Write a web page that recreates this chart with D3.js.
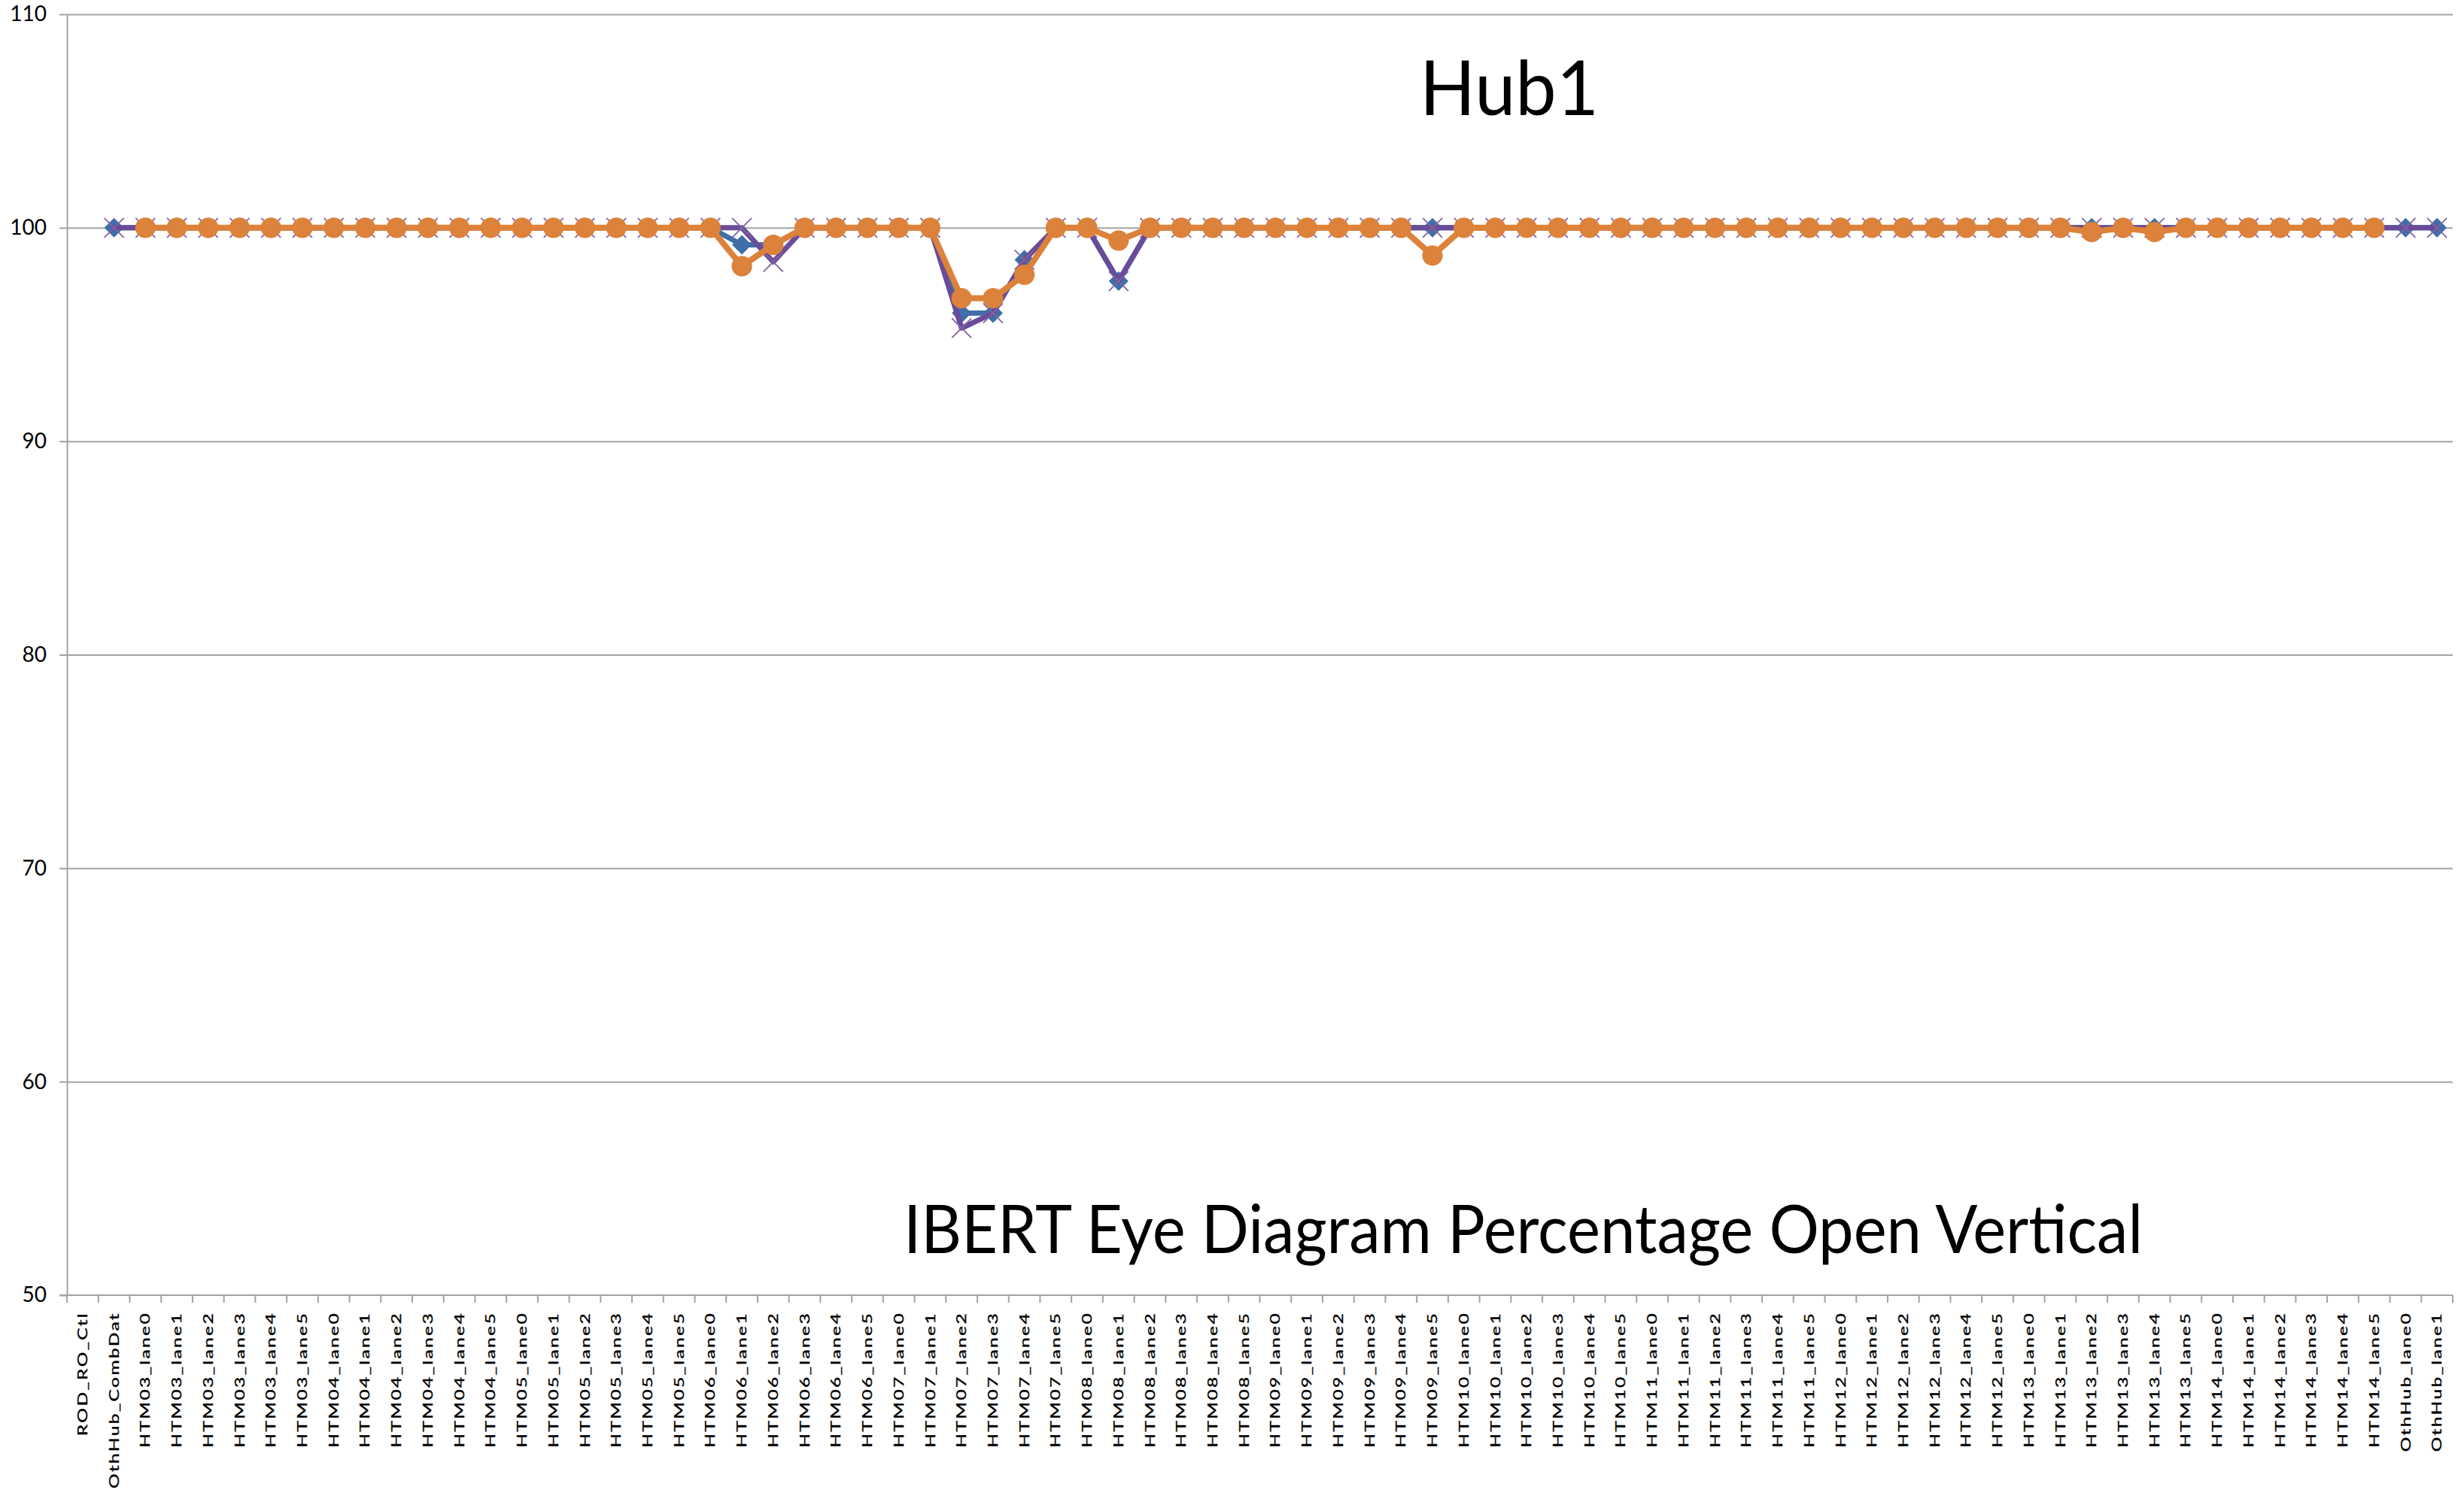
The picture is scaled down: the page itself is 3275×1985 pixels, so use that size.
<!DOCTYPE html>
<html>
<head>
<meta charset="utf-8">
<script src="https://cdn.jsdelivr.net/npm/d3@7"></script>
<style>
html,body{margin:0;padding:0;background:#fff;}
svg{display:block;}
</style>
</head>
<body>
<svg id="chart" width="3275" height="1985"></svg>
<script>
const categories = [
  "ROD_RO_Ctl","OthHub_CombDat",
  "HTM03_lane0","HTM03_lane1","HTM03_lane2","HTM03_lane3","HTM03_lane4","HTM03_lane5",
  "HTM04_lane0","HTM04_lane1","HTM04_lane2","HTM04_lane3","HTM04_lane4","HTM04_lane5",
  "HTM05_lane0","HTM05_lane1","HTM05_lane2","HTM05_lane3","HTM05_lane4","HTM05_lane5",
  "HTM06_lane0","HTM06_lane1","HTM06_lane2","HTM06_lane3","HTM06_lane4","HTM06_lane5",
  "HTM07_lane0","HTM07_lane1","HTM07_lane2","HTM07_lane3","HTM07_lane4","HTM07_lane5",
  "HTM08_lane0","HTM08_lane1","HTM08_lane2","HTM08_lane3","HTM08_lane4","HTM08_lane5",
  "HTM09_lane0","HTM09_lane1","HTM09_lane2","HTM09_lane3","HTM09_lane4","HTM09_lane5",
  "HTM10_lane0","HTM10_lane1","HTM10_lane2","HTM10_lane3","HTM10_lane4","HTM10_lane5",
  "HTM11_lane0","HTM11_lane1","HTM11_lane2","HTM11_lane3","HTM11_lane4","HTM11_lane5",
  "HTM12_lane0","HTM12_lane1","HTM12_lane2","HTM12_lane3","HTM12_lane4","HTM12_lane5",
  "HTM13_lane0","HTM13_lane1","HTM13_lane2","HTM13_lane3","HTM13_lane4","HTM13_lane5",
  "HTM14_lane0","HTM14_lane1","HTM14_lane2","HTM14_lane3","HTM14_lane4","HTM14_lane5",
  "OthHub_lane0","OthHub_lane1"
];

// Series with diamond markers (blue)
const seriesDiamond = [
  null,100,
  100,100,100,100,100,100,
  100,100,100,100,100,100,
  100,100,100,100,100,100,
  100,99.2,99.2,100,100,100,
  100,100,96.0,96.0,98.5,100,
  100,97.5,100,100,100,100,
  100,100,100,100,100,100,
  100,100,100,100,100,100,
  100,100,100,100,100,100,
  100,100,100,100,100,100,
  100,100,100,100,100,100,
  100,100,100,100,100,100,
  100,100
];

// Series with X markers (purple)
const seriesCross = [
  null,100,
  100,100,100,100,100,100,
  100,100,100,100,100,100,
  100,100,100,100,100,100,
  100,100,98.4,100,100,100,
  100,100,95.3,96.0,98.5,100,
  100,97.5,100,100,100,100,
  100,100,100,100,100,100,
  100,100,100,100,100,100,
  100,100,100,100,100,100,
  100,100,100,100,100,100,
  100,100,100,100,100,100,
  100,100,100,100,100,100,
  100,100
];

// Series with circle markers (orange)
const seriesCircle = [
  null,null,
  100,100,100,100,100,100,
  100,100,100,100,100,100,
  100,100,100,100,100,100,
  100,98.2,99.2,100,100,100,
  100,100,96.7,96.7,97.8,100,
  100,99.4,100,100,100,100,
  100,100,100,100,100,98.7,
  100,100,100,100,100,100,
  100,100,100,100,100,100,
  100,100,100,100,100,100,
  100,100,99.8,100,99.8,100,
  100,100,100,100,100,100,
  null,null
];

const yTicks = [50,60,70,80,90,100,110];
const titleText = "Hub1";
const subtitleText = "IBERT Eye Diagram Percentage Open Vertical";

(function(){
const svg = d3.select("#chart");
const mL = 89, mR = 3260, mT = 19, mB = 1722;
const FONT = "Lato, 'Open Sans', sans-serif";
const gridColor = "#A3A3A3";

const x = d3.scaleBand().domain(categories).range([mL, mR]).padding(0);
const y = d3.scaleLinear().domain([50,110]).range([mB, mT]);
const cx = c => x(c) + x.bandwidth()/2;

svg.append("rect").attr("width",3275).attr("height",1985).attr("fill","#fff");

// gridlines
const grid = svg.append("g").attr("transform",`translate(${mL},0)`)
  .call(d3.axisLeft(y).tickValues(yTicks.filter(t=>t>50)).tickSize(-(mR-mL)).tickFormat(""));
grid.select(".domain").remove();
grid.selectAll("line").attr("stroke",gridColor).attr("stroke-width",2);

// y axis with labels
const yAxis = svg.append("g").attr("transform",`translate(${mL},0)`)
  .call(d3.axisLeft(y).tickValues(yTicks).tickSize(10).tickSizeOuter(0).tickPadding(17));
yAxis.select(".domain").attr("stroke",gridColor).attr("stroke-width",2);
yAxis.selectAll("line").attr("stroke",gridColor).attr("stroke-width",2);
yAxis.selectAll("text").attr("font-family",FONT).attr("font-size",28).attr("fill","#000");

// x axis line
svg.append("line").attr("x1",mL-10).attr("x2",mR).attr("y1",y(50)).attr("y2",y(50))
  .attr("stroke",gridColor).attr("stroke-width",2);
// boundary ticks
const boundaries = categories.map(c => x(c)).concat([x.range()[1]]);
svg.append("g").selectAll("line").data(boundaries).join("line")
  .attr("x1",d=>d).attr("x2",d=>d).attr("y1",y(50)).attr("y2",y(50)+10)
  .attr("stroke",gridColor).attr("stroke-width",2);

// x labels
svg.append("g").selectAll("text").data(categories).join("text")
  .attr("transform",c=>`translate(${cx(c)},${y(50)+22}) rotate(-90) scale(1.45,1)`)
  .attr("text-anchor","end")
  .attr("dy","0.36em")
  .attr("font-family",FONT).attr("font-size",17).attr("letter-spacing",1.6)
  .attr("fill","#000").attr("stroke","#000").attr("stroke-width",0.35)
  .text(c=>c);

// series
const seriesDefs = [
  {data: seriesDiamond, color:"#3F6EA8", marker:"diamond", width:7},
  {data: seriesCross, color:"#6A4B99", marker:"cross", width:7},
  {data: seriesCircle, color:"#DC823A", marker:"circle", width:8}
];

const line = d3.line()
  .defined(d => d.v != null)
  .x(d => cx(d.c))
  .y(d => y(d.v));

const diamondPath = d3.symbol().type(d3.symbolSquare).size(340)();
const circlePath = d3.symbol().type(d3.symbolCircle).size(580)();

seriesDefs.forEach(s => {
  const pts = categories.map((c,i)=>({c, v:s.data[i]}));
  svg.append("path").datum(pts)
    .attr("d", line)
    .attr("fill","none").attr("stroke",s.color).attr("stroke-width",s.width)
    .attr("stroke-linejoin","round").attr("stroke-linecap","round");
  const g = svg.append("g");
  const valid = pts.filter(d=>d.v!=null);
  if (s.marker === "diamond") {
    g.selectAll("path").data(valid).join("path")
      .attr("d", diamondPath)
      .attr("transform", d=>`translate(${cx(d.c)},${y(d.v)}) rotate(45)`)
      .attr("fill", s.color);
  } else if (s.marker === "cross") {
    g.selectAll("path").data(valid).join("path")
      .attr("d", "M-13,-13L13,13M-13,13L13,-13")
      .attr("transform", d=>`translate(${cx(d.c)},${y(d.v)})`)
      .attr("fill","none").attr("stroke","#8064A2").attr("stroke-width",1.8);
  } else {
    g.selectAll("path").data(valid).join("path")
      .attr("d", circlePath)
      .attr("transform", d=>`translate(${cx(d.c)},${y(d.v)})`)
      .attr("fill", s.color);
  }
});

// titles
svg.append("text").attr("x",2006).attr("y",153)
  .attr("text-anchor","middle").attr("font-family",FONT).attr("font-size",101)
  .attr("textLength",238).attr("lengthAdjust","spacingAndGlyphs")
  .attr("fill","#000").text(titleText);

svg.append("text").attr("x",1201).attr("y",1666)
  .attr("font-family",FONT).attr("font-size",90)
  .attr("textLength",1647).attr("lengthAdjust","spacingAndGlyphs")
  .attr("fill","#000").text(subtitleText);
})();
</script>
</body>
</html>
